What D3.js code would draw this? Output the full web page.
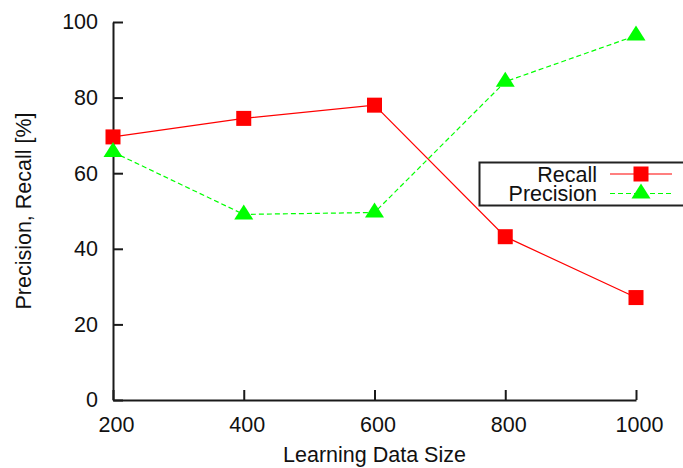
<!DOCTYPE html>
<html>
<head>
<meta charset="utf-8">
<script src="https://cdn.jsdelivr.net/npm/d3@7"></script>
<style>
  html, body { margin: 0; padding: 0; background: #fff; }
  svg { display: block; font-family: "Liberation Sans", Arial, Helvetica, sans-serif; }
</style>
</head>
<body>
<svg id="chart" width="683" height="468"></svg>
<script>
// Learning data sizes on the x axis
const sizes = [200, 400, 600, 800, 1000];
// Scores in percent for each size
const recall = [69.6, 74.5, 78.0, 43.2, 27.1];
const precision = [65.6, 49.1, 49.6, 84.2, 96.4];
// Axis ticks
const xTicks = [200, 400, 600, 800, 1000];
const yTicks = [0, 20, 40, 60, 80, 100];

const svg = d3.select("#chart");
const x = d3.scaleLinear().domain([200, 1000]).range([113, 636]);
const y = d3.scaleLinear().domain([0, 100]).range([400, 22]);
const axisColor = "#1a1a1a";
const fontSize = 21.5;

// Bottom axis with inward ticks
const xAxis = d3.axisBottom(x).tickValues(xTicks).tickFormat(d3.format("d"))
  .tickSizeInner(-10).tickSizeOuter(0).tickPadding(17);
const gx = svg.append("g").attr("transform", `translate(0,${y(0)})`).call(xAxis);
gx.select(".domain").attr("stroke", axisColor).attr("stroke-width", 2);
gx.selectAll(".tick line").attr("stroke", axisColor).attr("stroke-width", 2);
gx.selectAll(".tick text").attr("font-size", fontSize).attr("fill", "#111")
  .attr("font-family", "Liberation Sans, Arial, sans-serif").attr("dx", 3);

// Left axis with inward ticks
const yAxis = d3.axisLeft(y).tickValues(yTicks).tickFormat(d3.format("d"))
  .tickSizeInner(-10).tickSizeOuter(0).tickPadding(15);
const gy = svg.append("g").attr("transform", `translate(${x(200)},0)`).call(yAxis);
gy.select(".domain").attr("stroke", axisColor).attr("stroke-width", 2);
gy.selectAll(".tick line").attr("stroke", axisColor).attr("stroke-width", 2);
gy.selectAll(".tick text").attr("font-size", fontSize).attr("fill", "#111")
  .attr("font-family", "Liberation Sans, Arial, sans-serif");

// Axis titles
svg.append("text").attr("x", (x(200) + x(1000)) / 2).attr("y", 462)
  .attr("text-anchor", "middle").attr("font-size", fontSize).attr("fill", "#111")
  .text("Learning Data Size");
svg.append("text").attr("transform", `translate(31,${(y(0) + y(100)) / 2}) rotate(-90)`)
  .attr("text-anchor", "middle").attr("font-size", fontSize).attr("fill", "#111")
  .text("Precision, Recall [%]");

const red = "#ff0000";
const green = "#00ff00";
const sq = 15;

function triangle(g, cx, cy) {
  // upward triangle whose centroid sits on the point
  const w = 19, h = 15;
  g.append("path")
    .attr("d", `M${cx},${cy - h * 2 / 3} L${cx + w / 2},${cy + h / 3} L${cx - w / 2},${cy + h / 3} Z`)
    .attr("fill", green);
}

const line = d3.line().x(d => x(d[0])).y(d => y(d[1]));
const recallPts = sizes.map((s, i) => [s, recall[i]]);
const precPts = sizes.map((s, i) => [s, precision[i]]);

const plot = svg.append("g");
plot.append("path").datum(recallPts).attr("d", line)
  .attr("fill", "none").attr("stroke", red).attr("stroke-width", 1.2);
plot.append("path").datum(precPts).attr("d", line)
  .attr("fill", "none").attr("stroke", green).attr("stroke-width", 1.2)
  .attr("stroke-dasharray", "5,3");

plot.selectAll("rect.recall").data(recallPts).enter().append("rect")
  .attr("class", "recall")
  .attr("x", d => x(d[0]) - sq / 2).attr("y", d => y(d[1]) - sq / 2)
  .attr("width", sq).attr("height", sq).attr("fill", red);
precPts.forEach(d => triangle(plot, x(d[0]), y(d[1])));

// Legend
const lg = svg.append("g");
lg.append("rect").attr("x", 479.5).attr("y", 162.5).attr("width", 230).attr("height", 43)
  .attr("fill", "#fff").attr("stroke", "#222").attr("stroke-width", 2);
const rows = [
  { label: "Recall", y: 174, color: red, dash: null, mark: "square" },
  { label: "Precision", y: 193.5, color: green, dash: "5,3", mark: "triangle" }
];
rows.forEach(r => {
  lg.append("text").attr("x", 597).attr("y", r.y).attr("dy", "0.36em")
    .attr("text-anchor", "end").attr("font-size", fontSize).attr("fill", "#111").text(r.label);
  lg.append("line").attr("x1", 610).attr("x2", 672).attr("y1", r.y).attr("y2", r.y)
    .attr("stroke", r.color).attr("stroke-width", 1.2)
    .attr("stroke-dasharray", r.dash);
  if (r.mark === "square") {
    lg.append("rect").attr("x", 641 - sq / 2).attr("y", r.y - sq / 2)
      .attr("width", sq).attr("height", sq).attr("fill", red);
  } else {
    triangle(lg, 641, r.y);
  }
});
</script>
</body>
</html>
